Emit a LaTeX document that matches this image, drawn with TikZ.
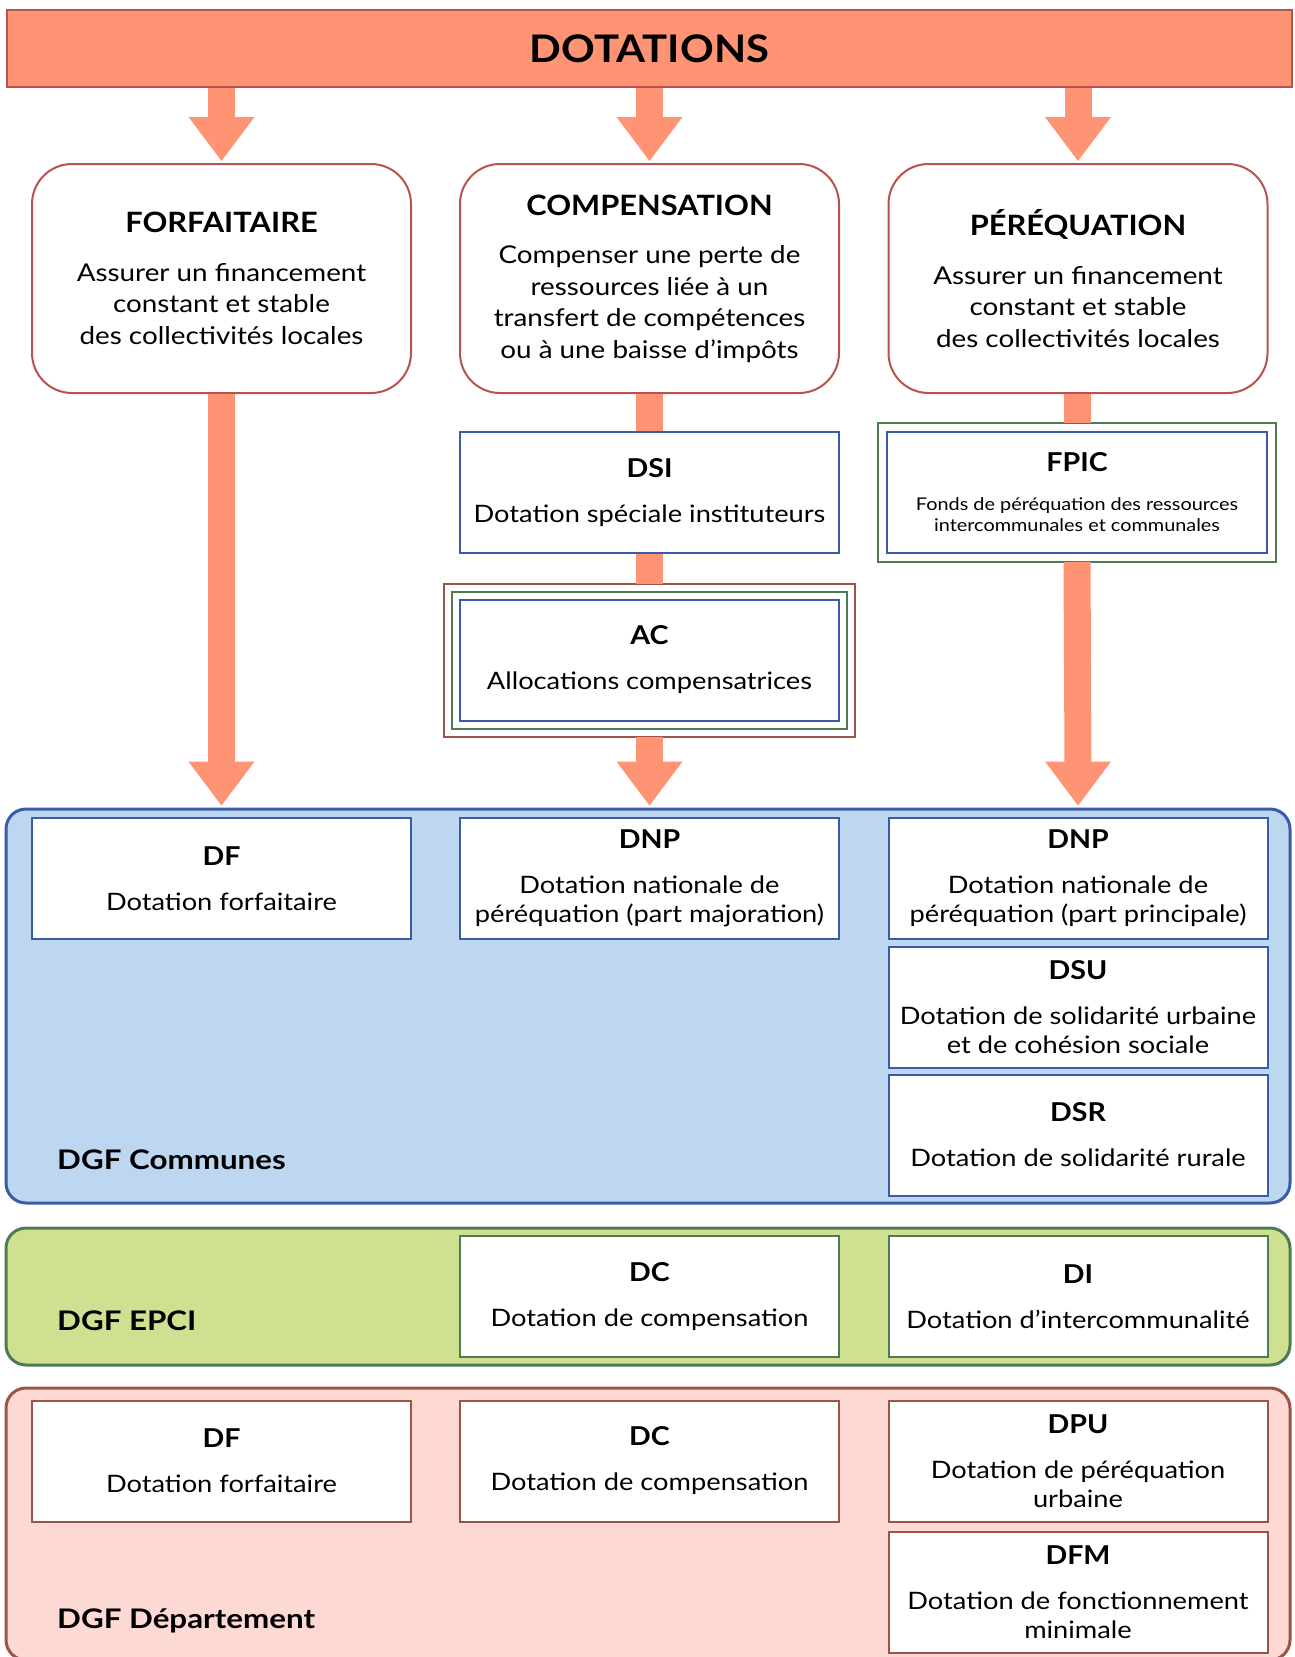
\documentclass[tikz,border=0pt]{standalone}
\usepackage{fontspec}
\setmainfont{Lato}
\newfontfamily\bodyf{Lato}[FakeStretch=1.135]
\newfontfamily\titlef{Lato}[FakeStretch=1.1]
\newfontfamily\lblf{Lato}[FakeStretch=1.16]
\usetikzlibrary{calc}
\definecolor{orng}{RGB}{255,148,116}
\definecolor{redb}{RGB}{184,82,78}
\definecolor{blueb}{RGB}{58,91,166}
\definecolor{greenb}{RGB}{78,122,84}
\definecolor{brownb}{RGB}{155,85,70}
\definecolor{commfill}{RGB}{189,215,240}
\definecolor{epcifill}{RGB}{207,224,145}
\definecolor{depfill}{RGB}{253,217,212}
\newcommand{\rtl}[1]{{\titlef\fontsize{28}{31.5}\selectfont\bfseries #1}\\[17pt]}
\newcommand{\btl}[1]{{\titlef\fontsize{26}{29}\selectfont\bfseries #1}\\[16pt]}
\begin{document}
\begin{tikzpicture}[x=1pt,y=-1pt,
  shaft/.style={draw=orng,line width=27pt},
  headst/.style={fill=orng},
  rnd/.style={draw=redb,line width=2pt,fill=white,rounded corners=40pt,
    minimum width=379pt,minimum height=229pt,inner sep=0pt,align=center,
    font=\bodyf\fontsize{24.5}{31.5}\selectfont},
  boxst/.style={line width=2pt,fill=white,minimum width=379pt,minimum height=121pt,
    inner sep=0pt,align=center,font=\bodyf\fontsize{24}{29}\selectfont},
  bbox/.style={boxst,draw=blueb},
  gbox/.style={boxst,draw=greenb},
  rbox/.style={boxst,draw=brownb},
  panel/.style={line width=3pt,rounded corners=20pt,minimum width=1284pt,inner sep=0pt},
  lbl/.style={anchor=base west,font=\lblf\fontsize{27}{30}\selectfont\bfseries,inner sep=0pt}]
\useasboundingbox (0,0) rectangle (1294,1657);

% top bar
\node[draw=redb,fill=orng,line width=2pt,minimum width=1285pt,minimum height=77pt,
  inner sep=0pt,font=\titlef\fontsize{38}{40}\selectfont\bfseries] (top) at (649.5,48.5) {DOTATIONS};

% round boxes
\node[rnd] (forf) at (221.5,278.5) {\rtl{FORFAITAIRE}Assurer un financement\\constant et stable\\des collectivités locales};
\node[rnd] (comp) at (649.5,278.5) {\rtl{COMPENSATION}Compenser une perte de\\ressources liée à un\\transfert de compétences\\ou à une baisse d’impôts};
\node[rnd] (pere) at (1078,278.5) {\rtl{PÉRÉQUATION}Assurer un financement\\constant et stable\\des collectivités locales};

% arrows top bar -> round boxes
\foreach \n in {forf,comp,pere}{
  \draw[shaft] (top.south -| \n.north) -- ($(\n.north)+(0,-40)$);
  \fill[headst] ($(\n.north)+(-33,-46)$) -- ($(\n.north)+(33,-46)$) -- ($(\n.north)+(0,-2)$) -- cycle;
}

% panels
\node[panel,draw=blueb,fill=commfill,minimum height=394pt] (comm) at (648,1006) {};
\node[panel,draw=greenb,fill=epcifill,minimum height=137pt] (epci) at (648,1296.5) {};
\node[panel,draw=brownb,fill=depfill,minimum height=272pt] (dept) at (648,1524) {};
\node[lbl] (lcomm) at (57,1169) {DGF Communes};
\node[lbl] (lepci) at (57,1330) {DGF EPCI};
\node[lbl] (ldept) at (57,1628) {DGF Département};

% middle boxes
\node[bbox] (dsi) at (649.5,492.5) {\btl{DSI}Dotation spéciale instituteurs};
\node[bbox] (ac) at (649.5,660) {\btl{AC}Allocations compensatrices};
\draw[greenb,line width=2pt] ($(ac.south west)+(-7,7)$) rectangle ($(ac.north east)+(7,-7)$);
\draw[brownb,line width=2pt] ($(ac.south west)+(-15,15)$) rectangle ($(ac.north east)+(15,-15)$);
\coordinate (acN) at ($(ac.north)+(0,-15)$);
\coordinate (acS) at ($(ac.south)+(0,15)$);
\node[bbox,minimum width=380pt,font=\bodyf\fontsize{17.5}{21}\selectfont] (fpic) at (1077,492.5)
  {{\titlef\fontsize{26}{29}\selectfont\bfseries FPIC}\\[18pt]Fonds de péréquation des ressources\\intercommunales et communales};
\draw[greenb,line width=2pt] ($(fpic.south west)+(-8,8)$) rectangle ($(fpic.north east)+(8,-8)$);
\coordinate (fpN) at ($(fpic.north)+(0,-8)$);
\coordinate (fpS) at ($(fpic.south)+(0,8)$);

% connectors
\draw[shaft] (comp.south) -- (dsi.north);
\draw[shaft] (dsi.south) -- (acN);
\draw[shaft] (pere.south -| fpN) -- (fpN);
\coordinate (t1) at ($(comm.north -| forf.south)+(0,-2)$);
\coordinate (t2) at ($(comm.north -| comp.south)+(0,-2)$);
\coordinate (t3) at ($(comm.north -| pere.south)+(0,-2)$);
\draw[shaft] (forf.south) -- ($(t1)+(0,-40)$);
\draw[shaft] (acS) -- ($(t2)+(0,-40)$);
\draw[shaft] (fpS) -- ($(t3)+(0,-40)$);
\foreach \t in {t1,t2,t3}{
  \fill[headst] ($(\t)+(-33,-44)$) -- ($(\t)+(33,-44)$) -- (\t) -- cycle;
}

% communes boxes
\node[bbox] (df) at (221.5,878.5) {\btl{DF}Dotation forfaitaire};
\node[bbox] (dnp1) at (649.5,878.5) {\btl{DNP}Dotation nationale de\\péréquation (part majoration)};
\node[bbox] (dnp2) at (1078,878.5) {\btl{DNP}Dotation nationale de\\péréquation (part principale)};
\node[bbox] (dsu) at (1078,1007) {\btl{DSU}Dotation de solidarité urbaine\\et de cohésion sociale};
\node[bbox] (dsr) at (1078,1135) {\btl{DSR}Dotation de solidarité rurale};

% EPCI boxes
\node[gbox] (dc) at (649.5,1296.5) {\btl{DC}Dotation de compensation};
\node[gbox] (di) at (1078,1296.5) {\btl{DI}Dotation d’intercommunalité};

% departement boxes
\node[rbox] (dfd) at (221.5,1461) {\btl{DF}Dotation forfaitaire};
\node[rbox] (dcd) at (649.5,1461) {\btl{DC}Dotation de compensation};
\node[rbox] (dpu) at (1078,1461) {\btl{DPU}Dotation de péréquation\\urbaine};
\node[rbox] (dfm) at (1078,1592.5) {\btl{DFM}Dotation de fonctionnement\\minimale};
\end{tikzpicture}
\end{document}
